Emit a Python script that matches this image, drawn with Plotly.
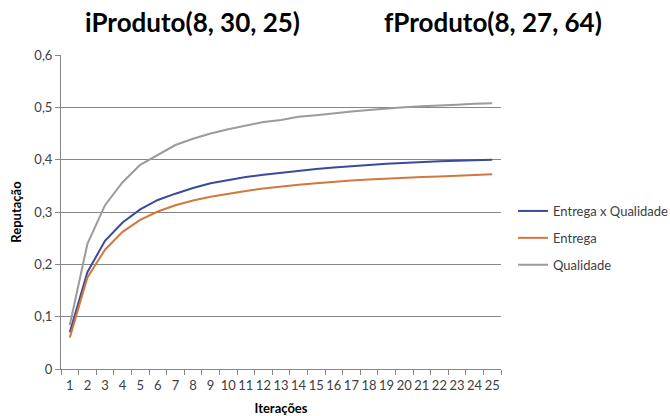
import plotly.graph_objects as go

iteracoes = [str(i) for i in range(1, 26)]

entrega_x_qualidade = [0.070, 0.185, 0.245, 0.280, 0.305, 0.323, 0.335, 0.346, 0.355, 0.361,
                       0.367, 0.371, 0.375, 0.379, 0.382, 0.385, 0.388, 0.390, 0.392, 0.394,
                       0.395, 0.397, 0.398, 0.399, 0.400]
entrega = [0.060, 0.175, 0.228, 0.262, 0.285, 0.301, 0.313, 0.322, 0.329, 0.335,
           0.340, 0.345, 0.349, 0.352, 0.355, 0.358, 0.360, 0.362, 0.364, 0.365,
           0.367, 0.368, 0.369, 0.370, 0.372]
qualidade = [0.084, 0.239, 0.313, 0.357, 0.390, 0.409, 0.428, 0.440, 0.450, 0.458,
             0.465, 0.472, 0.476, 0.482, 0.485, 0.489, 0.492, 0.495, 0.498, 0.500,
             0.502, 0.503, 0.505, 0.507, 0.508]

series = [
    ("Entrega x Qualidade", entrega_x_qualidade, "#3B4A9A"),
    ("Entrega", entrega, "#D2783C"),
    ("Qualidade", qualidade, "#9B9B9B"),
]

headings = ["iProduto(8, 30, 25)", "fProduto(8, 27, 64)"]

W, H = 670, 416
L, R, T, B = 61, 169, 55, 47
plot_w = W - L - R
plot_h = H - T - B

font_family = "Lato, 'Open Sans', sans-serif"

fig = go.Figure()
for name, vals, color in series:
    fig.add_trace(go.Scatter(x=iteracoes, y=vals, name=name, mode="lines",
                             legendgroup=name,
                             line=dict(color=color, width=2)))

fig.update_layout(
    width=W, height=H,
    margin=dict(l=L, r=R, t=T, b=B, autoexpand=False),
    paper_bgcolor="white", plot_bgcolor="white",
    font=dict(family=font_family, size=13, color="#404040"),
    separators=", ",
    showlegend=True,
    legend=dict(xref="container", yref="container",
                x=513 / W, y=1 - 238 / H, xanchor="left", yanchor="middle",
                font=dict(size=13, color="#404040"), tracegroupgap=7,
                bgcolor="rgba(0,0,0,0)"),
    xaxis=dict(
        type="category", tickson="boundaries", ticks="outside", ticklen=5,
        tickcolor="#868686", showline=True, linecolor="#868686", linewidth=1,
        showgrid=False, tickangle=0, automargin=False, ticklabelstandoff=4,
        tickfont=dict(size=13, color="#404040"),
        title=dict(text="<b>Iterações</b>", font=dict(size=13, color="#000"), standoff=14),
        range=[-0.5, 24.5],
    ),
    yaxis=dict(
        range=[0, 0.6], dtick=0.1, tickformat=".1~f", automargin=False,
        ticks="outside", ticklen=5, tickcolor="#868686",
        showline=True, linecolor="#868686", linewidth=1,
        showgrid=True, gridcolor="#868686", gridwidth=1, zeroline=False,
        tickfont=dict(size=13, color="#404040"),
        title=dict(text="<b>Reputação</b>", font=dict(size=13, color="#000"), standoff=9),
    ),
)

# Two headings above the plot area, centred on their pixel positions
heads = []
for txt, cx in zip(headings, [192, 493]):
    heads.append(dict(text=f"<b>{txt}</b>", x=(cx - L) / plot_w, y=(H - B - 22) / plot_h,
                      xref="paper", yref="paper", xanchor="center", yanchor="middle",
                      showarrow=False, font=dict(size=26, color="#000", family=font_family)))
fig.update_layout(annotations=heads)

fig.write_html("out.html")
